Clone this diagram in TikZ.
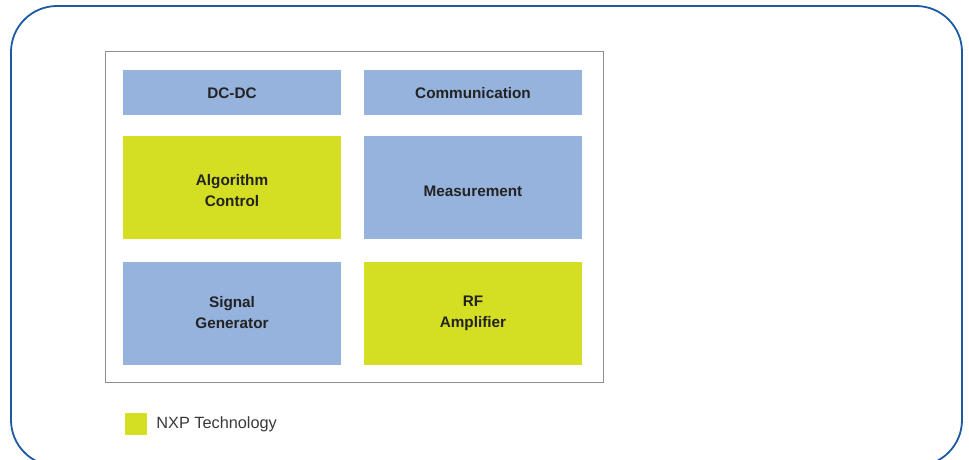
\documentclass[tikz,border=0pt]{standalone}
\usepackage{fontspec}
\setmainfont{Liberation Sans}
\usepackage{xcolor}
\usetikzlibrary{positioning}

\definecolor{blkblue}{HTML}{95B3DC}
\definecolor{nxpgreen}{HTML}{D4DE22}
\definecolor{frameblue}{HTML}{1C5AA3}
\definecolor{boxgray}{HTML}{8A9096}
\definecolor{txtdark}{HTML}{232323}

% push a line of block text down without changing the block size
\newcommand{\dropline}[1]{\raisebox{-3.5pt}[\height][\depth]{#1}}

\begin{document}
\begin{tikzpicture}[
  x=1pt, y=-1pt,
  every node/.style={align=center, text=txtdark},
  blk/.style={minimum width=218pt, minimum height=103pt, inner sep=0pt,
              font=\fontsize{15.3}{21}\selectfont\bfseries},
  slim/.style={blk, minimum height=45pt},
]
  \useasboundingbox (0,0) rectangle (969,460);
  \clip (0,0) rectangle (969,460);

  % outer frame, runs off the bottom edge
  \draw[frameblue, line width=1.8pt, rounded corners=46pt] (11,6) rectangle (962,466);

  % board outline
  \draw[boxgray, line width=1pt] (105,52) rectangle (603,382);

  % top row
  \node[slim, fill=blkblue] (dcdc) at (232,92.5) {\raisebox{-1pt}[\height][\depth]{DC-DC}};
  \node[slim, fill=blkblue] (comm) at (473,92.5) {\raisebox{-1pt}[\height][\depth]{Communication}};

  % middle row
  \node[blk, fill=nxpgreen] (algo) at (232,187.5) {\dropline{Algorithm}\\\dropline{Control}};
  \node[blk, fill=blkblue]  (meas) at (473,187.5) {\dropline{Measurement}};

  % bottom row
  \node[blk, fill=blkblue]  (siggen) at (232,313) {Signal\\Generator};
  \node[blk, fill=nxpgreen] (rfamp)  at (473,313) {RF\\Amplifier};

  % legend
  \node[fill=nxpgreen, minimum size=22pt, inner sep=0pt] (key) at (136,424) {};
  \node[right=9pt of key, inner sep=0pt, font=\fontsize{16.3}{19}\selectfont,
        text=txtdark!90] (keytext) {NXP Technology};
\end{tikzpicture}
\end{document}
